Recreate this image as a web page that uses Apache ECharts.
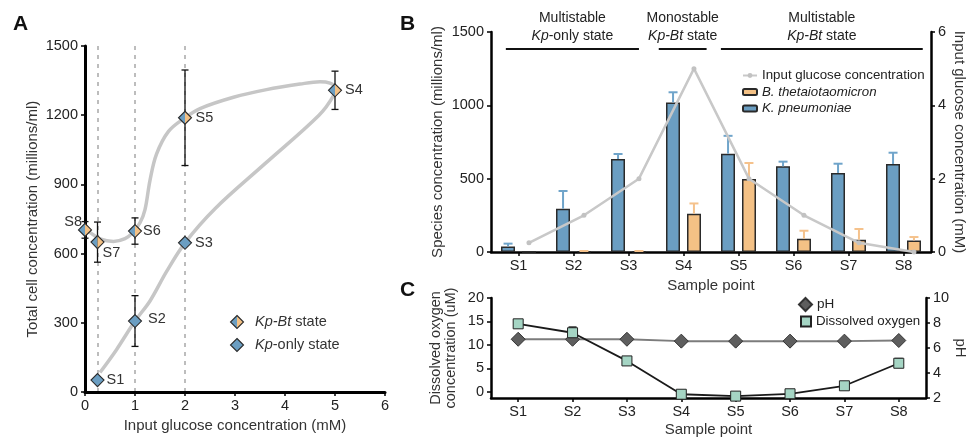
<!DOCTYPE html>
<html><head><meta charset="utf-8">
<script src="https://cdn.jsdelivr.net/npm/echarts@6/dist/echarts.min.js"></script>
<style>html,body{margin:0;padding:0;background:#fff}#c{width:969px;height:438px}</style>
</head><body><div id="c"></div>
<script>
// ---------- data ----------
const samples = ['S1','S2','S3','S4','S5','S6','S7','S8'];
// Panel A
const inputGlucose = [0.25, 1, 2, 5, 2, 1, 0.25, 0];
const totalCells = [52, 308, 647, 1308, 1189, 698, 650, 703];
const totalCellsErr = [0, 110, 0, 83, 207, 57, 87, 36];
const sampleState = ['Kp-only','Kp-only','Kp-only','Kp-Bt','Kp-Bt','Kp-Bt','Kp-Bt','Kp-Bt'];
const trendGlucose = [0.3, 0.63, 1, 1.3, 1.63, 2, 2.6, 3.6, 4.68, 4.97, 5.0, 4.9, 4.7, 4.3, 3.63, 2.97, 2.3, 2, 1.67, 1.43, 1.3, 1.2, 1.1, 0.95, 0.8, 0.57, 0.3, 0.1, 0];
const trendTotal   = [85, 184, 308, 395, 522, 647, 795, 990, 1200, 1285, 1321, 1339, 1345, 1335, 1311, 1278, 1229, 1189, 1130, 1031, 918, 791, 734, 690, 665, 653, 664, 692, 703];
const glucoseGuides = [0.25, 1, 2];
// Panel B
const kPneumoniae    = [38, 295, 634, 1020, 670, 584, 539, 600];
const kPneumoniaeErr = [19, 121, 34, 69, 122, 32, 63, 77];
const bTheta         = [0, 3, 3, 261, 498, 91, 84, 79];
const bThetaErr      = [0, 4, 4, 70, 109, 54, 73, 23];
const stateTitle  = ['Multistable', 'Monostable', 'Multistable'];
const stateDetail = ['{i|Kp}-only state', '{i|Kp-Bt} state', '{i|Kp-Bt} state'];
const stateSpanStart = [-0.23, 2.55, 3.68];
const stateSpanEnd   = [2.19, 3.42, 7.35];
// Panel C
const dissolvedOxygen    = [14.5, 12.6, 6.6, -0.5, -0.9, -0.4, 1.3, 6.1];
const dissolvedOxygenErr = [0.3, 1.2, 0.3, 0.2, 0.2, 0.3, 0.3, 1.0];
const pH = [6.7, 6.7, 6.7, 6.55, 6.55, 6.55, 6.55, 6.6];
const doTicks = [0, 5, 10, 15, 20];

// ---------- style ----------
const FONT = "'Liberation Sans', Arial, Helvetica, sans-serif";
const BLUE = '#6b9ec2', ORANGE = '#f4c185';
const BLUE_ERR = '#6fa4ca', ORANGE_ERR = '#f5c28c';
const BAR_OFF = 0.19;   // offset of each bar from the category centre (band units)
const labelOffsetA = [[9,0,'left'],[13,-2,'left'],[10,0,'left'],[10,0,'left'],[10.5,0,'left'],[8,0,'left'],[5,10.5,'left'],[-3,-8,'right']];

function txt(x, y, text, opt) {
  opt = opt || {};
  const al = opt.align || 'left', va = opt.va || 'middle';
  return {type:'text', x:x, y:y, z2: 10, style:Object.assign({
    text:text, fill:opt.color || '#222', fontSize:opt.size || 14, fontFamily:FONT,
    fontWeight: opt.weight || 'normal',
    align:al, textAlign:al, verticalAlign:va, textVerticalAlign:va
  }, opt.rich ? {rich:opt.rich} : {})};
}
function diamondShapes(cx, cy, h, twoTone) {
  const top=[cx,cy-h], right=[cx+h,cy], bottom=[cx,cy+h], left=[cx-h,cy];
  const out = [];
  if (twoTone) {
    out.push({type:'polygon', shape:{points:[top,bottom,left]}, style:{fill:BLUE}});
    out.push({type:'polygon', shape:{points:[top,right,bottom]}, style:{fill:ORANGE}});
    out.push({type:'polygon', shape:{points:[top,right,bottom,left]}, style:{fill:'none', stroke:'#2a2a2a', lineWidth:1.1}});
  } else {
    out.push({type:'polygon', shape:{points:[top,right,bottom,left]}, style:{fill:BLUE, stroke:'#2a2a2a', lineWidth:1.1}});
  }
  return out;
}
function errBar(x, yTop, yBot, half, color, lw) {
  return [{type:'line', shape:{x1:x, y1:yTop, x2:x, y2:yBot}, style:{stroke:color, lineWidth:lw}},
          {type:'line', shape:{x1:x-half, y1:yTop, x2:x+half, y2:yTop}, style:{stroke:color, lineWidth:lw}}];
}

function renderA(params, api) {
  const i = params.dataIndex;
  const gx = api.value(0), tc = api.value(1), err = api.value(2);
  const p = api.coord([gx, tc]);
  let ch = [];
  if (err > 0) {
    const t = api.coord([gx, tc + err])[1], b = api.coord([gx, tc - err])[1];
    ch = ch.concat(errBar(p[0], t, b, 3.5, '#111', 1.3));
    ch.push({type:'line', shape:{x1:p[0]-3.5, y1:b, x2:p[0]+3.5, y2:b}, style:{stroke:'#111', lineWidth:1.3}});
  }
  ch = ch.concat(diamondShapes(p[0], p[1], 6.5, sampleState[i] === 'Kp-Bt'));
  const o = labelOffsetA[i];
  ch.push(txt(p[0] + o[0], p[1] + o[1], samples[i], {align:o[2], size:14.5, color:'#333'}));
  return {type:'group', children:ch};
}
function renderBErr(params, api) {
  const x = api.value(0), v = api.value(1), e = api.value(2), s = api.value(3);
  if (!(e > 0)) return null;
  const p = api.coord([x, v]), t = api.coord([x, v + e]);
  return {type:'group', children: errBar(p[0], t[1], p[1], 4.5, s === 0 ? BLUE_ERR : ORANGE_ERR, 2)};
}
function renderHeader(params, api) {
  const i = params.dataIndex;
  const a = api.coord([api.value(0), 1500]), b = api.coord([api.value(1), 1500]);
  const ly = a[1] + 17, cx = (a[0] + b[0]) / 2;
  return {type:'group', children:[
    {type:'line', shape:{x1:a[0], y1:ly, x2:b[0], y2:ly}, style:{stroke:'#111', lineWidth:2}},
    txt(cx, ly - 31, stateTitle[i], {align:'center', size:14}),
    txt(cx, ly - 13, stateDetail[i], {align:'center', size:14,
      rich:{i:{fontStyle:'italic', fontSize:14, fontFamily:FONT, fill:'#222', color:'#222'}}})
  ]};
}
function renderCErr(params, api) {
  const x = api.value(0), v = api.value(1), e = api.value(2);
  const p = api.coord([x, v]), t = api.coord([x, v + e]);
  return {type:'group', children: errBar(p[0], t[1], p[1], 4, '#111', 1.5)};
}

const plain = v => String(v);
function axisBase(lw) {
  return {
    axisLine:{show:true, onZero:false, lineStyle:{color:'#000', width:lw}},
    axisTick:{show:true, length:4, lineStyle:{color:'#000', width:1.5}},
    axisLabel:{color:'#222', fontSize:14.5, fontFamily:FONT, margin:7, formatter:plain},
    splitLine:{show:false},
    nameLocation:'middle',
    nameTextStyle:{color:'#333', fontSize:15, fontFamily:FONT}
  };
}
function ax(lw, extra) { return Object.assign(axisBase(lw), extra); }
const catLabel = {color:'#222', fontSize:14.5, fontFamily:FONT, margin:6};
const catTick = {show:true, alignWithLabel:true, length:4, lineStyle:{color:'#000', width:1.5}};

const chart = echarts.init(document.getElementById('c'), null, {renderer:'canvas'});
const option = {
  animation:false,
  backgroundColor:'#fff',
  grid:[
    {left:85, top:46, width:300, height:355},
    {left:491, top:32, width:440, height:220},
    {left:491, top:298, width:440, height:101}
  ],
  xAxis:[
    ax(3, {gridIndex:0, type:'value', min:0, max:6, interval:1, name:'Input glucose concentration (mM)', nameGap:19,
      axisLabel:{color:'#222', fontSize:14.5, fontFamily:FONT, margin:6, formatter:plain}}),
    ax(2.5, {gridIndex:1, type:'category', data:samples, name:'Sample point', nameGap:23, axisTick:catTick, axisLabel:catLabel}),
    {gridIndex:1, type:'value', min:-0.5, max:7.5, show:false},
    ax(2.5, {gridIndex:2, type:'category', data:samples, name:'Sample point', nameGap:24, axisTick:catTick, axisLabel:catLabel})
  ],
  yAxis:[
    ax(3, {gridIndex:0, type:'value', min:0, max:1500, interval:300, name:'Total cell concentration (millions/ml)', nameRotate:90, nameGap:45}),
    ax(2.5, {gridIndex:1, type:'value', position:'left', min:0, max:1500, interval:500, name:'Species concentration (millions/ml)', nameRotate:90, nameGap:46}),
    ax(2.5, {gridIndex:1, type:'value', position:'right', min:0, max:6, interval:2, name:'Input glucose concentration (mM)', nameRotate:-90, nameGap:21}),
    ax(2.5, {gridIndex:2, type:'value', position:'left', min:-1.3, max:20, name:'Dissolved oxygen\nconcentration (uM)', nameRotate:90, nameGap:33,
      nameTextStyle:{color:'#333', fontSize:14.5, fontFamily:FONT, lineHeight:15},
      axisTick:{show:true, length:4, customValues:doTicks, lineStyle:{color:'#000', width:1.5}},
      axisLabel:{color:'#222', fontSize:14.5, fontFamily:FONT, margin:7, customValues:doTicks, formatter:plain}}),
    ax(2.5, {gridIndex:2, type:'value', position:'right', min:2, max:10, interval:2, name:'pH', nameRotate:-90, nameGap:21})
  ],
  legend:[
    {data:[{name:'Input glucose concentration'},
           {name:'B. thetaiotaomicron', textStyle:{fontStyle:'italic'}},
           {name:'K. pneumoniae', textStyle:{fontStyle:'italic'}}],
     orient:'vertical', left:737, top:64, itemWidth:14, itemHeight:6, itemGap:3.5, itemTextGap:4,
     selectedMode:false, textStyle:{color:'#222', fontSize:13.3, fontFamily:FONT}},
    {data:[{name:'pH', icon:'diamond'}], left:793, top:292, itemWidth:13, itemHeight:13, itemTextGap:4,
     selectedMode:false, textStyle:{color:'#222', fontSize:13.5, fontFamily:FONT}},
    {data:[{name:'Dissolved oxygen', icon:'rect'}], left:795, top:310, itemWidth:10, itemHeight:10, itemTextGap:5,
     selectedMode:false, textStyle:{color:'#222', fontSize:13.3, fontFamily:FONT}}
  ],
  series:[
    // Panel A
    {type:'line', name:'trend', xAxisIndex:0, yAxisIndex:0, z:1, silent:true,
     data: trendGlucose.map((g, i) => [g, trendTotal[i]]),
     smooth:0.35, symbol:'none', lineStyle:{color:'#c6c6c6', width:3.5},
     markLine:{silent:true, symbol:['none','none'], label:{show:false}, z:0,
       lineStyle:{color:'#a8a8a8', type:[4,5], width:1.5},
       data: glucoseGuides.map(v => ({xAxis:v}))}},
    {type:'custom', name:'samplesA', xAxisIndex:0, yAxisIndex:0, z:5, clip:false,
     data: samples.map((s, i) => [inputGlucose[i], totalCells[i], totalCellsErr[i]]),
     encode:{x:0, y:1}, renderItem: renderA},
    // Panel B
    {type:'bar', name:'K. pneumoniae', xAxisIndex:1, yAxisIndex:1, data:kPneumoniae, barWidth:14, barGap:'50%', z:2,
     itemStyle:{color:BLUE, borderColor:'#2a2a2a', borderWidth:1.5}},
    {type:'bar', name:'B. thetaiotaomicron', xAxisIndex:1, yAxisIndex:1, data:bTheta, barWidth:14, barGap:'50%', z:2,
     itemStyle:{color:ORANGE, borderColor:'#2a2a2a', borderWidth:1.5}},
    {type:'custom', name:'errB', xAxisIndex:2, yAxisIndex:1, z:3, clip:false,
     data: samples.map((s, i) => [i - BAR_OFF, kPneumoniae[i], kPneumoniaeErr[i], 0])
       .concat(samples.map((s, i) => [i + BAR_OFF, bTheta[i], bThetaErr[i], 1])),
     encode:{x:0, y:1}, renderItem: renderBErr},
    {type:'line', name:'Input glucose concentration', xAxisIndex:2, yAxisIndex:2, z:4,
     data: samples.map((s, i) => [i + BAR_OFF, inputGlucose[i]]),
     symbol:'circle', symbolSize:5, showAllSymbol:true,
     itemStyle:{color:'#c2c2c2'}, lineStyle:{color:'#c8c8c8', width:2.5}},
    {type:'custom', name:'states', xAxisIndex:2, yAxisIndex:1, z:6, clip:false, silent:true,
     data: stateSpanStart.map((s, i) => [s, stateSpanEnd[i], 1500]),
     encode:{x:[0,1], y:2}, renderItem: renderHeader},
    // Panel C
    {type:'line', name:'pH', xAxisIndex:3, yAxisIndex:4, data:pH, z:2,
     symbol:'diamond', symbolSize:14, showAllSymbol:true,
     itemStyle:{color:'#5e5e5e', borderColor:'#333', borderWidth:1},
     lineStyle:{color:'#7c7c7c', width:2}},
    {type:'custom', name:'errC', xAxisIndex:3, yAxisIndex:3, z:3, clip:false,
     data: samples.map((s, i) => [i, dissolvedOxygen[i], dissolvedOxygenErr[i]]),
     encode:{x:0, y:1}, renderItem: renderCErr},
    {type:'line', name:'Dissolved oxygen', xAxisIndex:3, yAxisIndex:3, data:dissolvedOxygen, z:4,
     symbol:'rect', symbolSize:10, showAllSymbol:true,
     itemStyle:{color:'#a5d5c4', borderColor:'#222', borderWidth:1},
     lineStyle:{color:'#1a1a1a', width:1.8}}
  ],
  graphic:[
    txt(13, 24, 'A', {size:21, weight:'bold', color:'#111'}),
    txt(400, 24, 'B', {size:21, weight:'bold', color:'#111'}),
    txt(400, 290, 'C', {size:21, weight:'bold', color:'#111'}),
    {type:'group', children: diamondShapes(237, 322, 6.5, true).concat(diamondShapes(237, 345, 6.5, false)).concat([
      txt(255, 322, '{i|Kp-Bt} state', {size:14.5, color:'#333', rich:{i:{fontStyle:'italic', fontSize:14.5, fontFamily:FONT, fill:'#333', color:'#333'}}}),
      txt(255, 345, '{i|Kp}-only state', {size:14.5, color:'#333', rich:{i:{fontStyle:'italic', fontSize:14.5, fontFamily:FONT, fill:'#333', color:'#333'}}})
    ])}
  ]
};
chart.setOption(option);
</script>
</body></html>
